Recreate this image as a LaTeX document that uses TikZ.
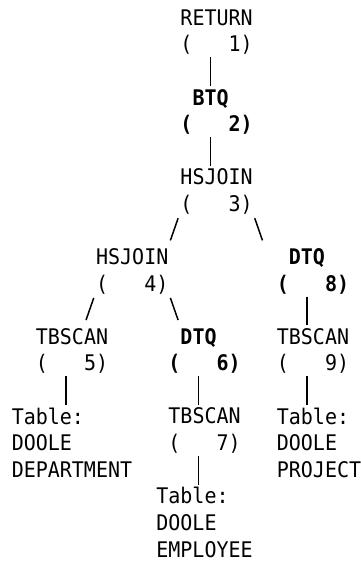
\documentclass[tikz,border=0pt]{standalone}
\usepackage{fontspec}
\setmonofont[FakeStretch=0.93]{DejaVu Sans Mono}
\usetikzlibrary{calc}
\tikzset{
  op/.style={anchor=north west,inner sep=0pt,align=left,
    font=\fontsize{21.5}{26.55}\selectfont\ttfamily,
    execute at begin node=\strut,execute at end node=\strut},
  hot/.style={op,font=\fontsize{21.5}{26.55}\selectfont\ttfamily\bfseries},
  tab/.style={op,execute at end node={}},
  link/.style={line width=1.5pt}
}

\begin{document}
\begin{tikzpicture}[x=12.05pt,y=-26.55pt]
\useasboundingbox (-0.96,-1.054) rectangle (28.92,20.113);
% operators, placed on the character grid (column, row)
\node[op] (ret) at (14,-0.7) {RETURN\\(\ \ \ 1)};
\node[hot] (btq) at (14,2.3) {\ BTQ\\(\ \ \ 2)};
\node[op] (hsjoin3) at (14,5.3) {HSJOIN\\(\ \ \ 3)};
\node[op] (hsjoin4) at (7,8.3) {HSJOIN\\(\ \ \ 4)};
\node[hot] (dtq8) at (22,8.3) {\ DTQ\\(\ \ \ 8)};
\node[op] (tbscan5) at (2,11.3) {TBSCAN\\(\ \ \ 5)};
\node[hot] (dtq6) at (13,11.3) {\ DTQ\\(\ \ \ 6)};
\node[op] (tbscan9) at (22,11.3) {TBSCAN\\(\ \ \ 9)};
\node[op] (tbscan7) at (13,14.3) {TBSCAN\\(\ \ \ 7)};
% tables
\node[tab] (department) at (0,14.3) {Table:\\DOOLE\\DEPARTMENT};
\node[tab] (project) at (22,14.3) {Table:\\DOOLE\\PROJECT};
\node[tab] (employee) at (12,17.3) {Table:\\DOOLE\\EMPLOYEE};
% links
\draw[link] ($(ret.south west)+(2.5,-.1)$) -- ($(btq.north west)+(2.5,-.1)$);
\draw[link] ($(btq.south west)+(2.5,-.1)$) -- ($(hsjoin3.north west)+(2.5,-.1)$);
\draw[link] ($(hsjoin3.south west)+(-.18,-.05)$) -- ($(hsjoin4.north west)+(6.18,-.3)$);
\draw[link] ($(hsjoin3.south west)+(6.18,-.05)$) -- ($(dtq8.north west)+(-1.18,-.3)$);
\draw[link] ($(hsjoin4.south west)+(-.18,-.05)$) -- ($(tbscan5.north west)+(4.18,-.3)$);
\draw[link] ($(hsjoin4.south west)+(6.18,-.05)$) -- ($(dtq6.north west)+(.82,-.3)$);
\draw[link] ($(dtq8.south west)+(2.5,-.1)$) -- ($(tbscan9.north west)+(2.5,-.1)$);
\draw[link] ($(tbscan5.south west)+(2.5,-.1)$) -- ($(department.north west)+(4.5,-.1)$);
\draw[link] ($(dtq6.south west)+(2.5,-.1)$) -- ($(tbscan7.north west)+(2.5,-.1)$);
\draw[link] ($(tbscan9.south west)+(2.5,-.1)$) -- ($(project.north west)+(2.5,-.1)$);
\draw[link] ($(tbscan7.south west)+(2.5,-.1)$) -- ($(employee.north west)+(3.5,-.1)$);
\end{tikzpicture}
\end{document}
